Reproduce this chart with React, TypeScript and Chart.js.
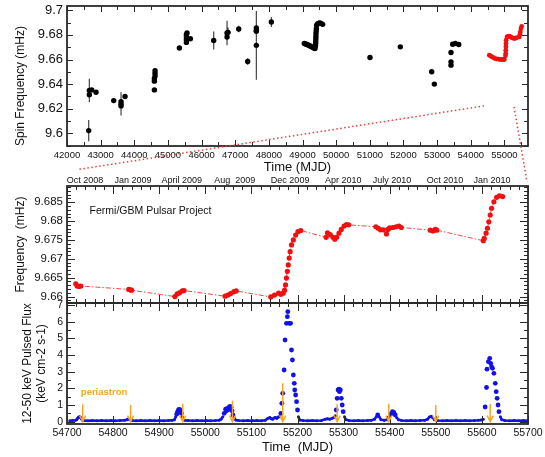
import React, { useEffect, useRef } from 'react';
import { Chart, registerables } from 'chart.js';

Chart.register(...registerables);

const FONT = "'Liberation Sans', Arial, Helvetica, sans-serif";
const RED = '#f01010';
const BLUE = '#1212e6';
const ORANGE = '#f5a623';
const INK = '#111111';
const FRAME = '#2a2a2a';

// ---------- top panel: long-term spin frequency (MJD, mHz, +/- error)
const topBlackMJD = [
  42645, 42664, 42664, 42734, 42863, 43388, 43606, 43606, 43606, 43725,
  44597, 44597, 44597, 44617, 44617, 44617, 45340, 45548, 45548, 45548,
  45548, 45568, 45667, 46360, 46786, 46756, 46756, 47103, 47370, 47627,
  47627, 47627, 47627, 48073,
  49052, 49090, 49129, 49165, 49201, 49237, 49272, 49300, 49331, 49350,
  49370, 49385, 49390, 49393, 49395, 49398, 49400, 49405, 49410, 49420,
  49450, 49485, 49519, 49560, 49598,
  51004, 51906, 52838, 52917, 53412, 53412, 53412, 53462, 53541, 53641,
];
const topBlackFreq = [
  9.6022, 9.6348, 9.6313, 9.6353, 9.6334, 9.6266, 9.6258, 9.6239, 9.6223, 9.6299,
  9.6353, 9.6424, 9.6446, 9.6467, 9.6489, 9.6510, 9.6693, 9.6739, 9.6761, 9.6783,
  9.6804, 9.6815, 9.6769, 9.6755, 9.6821, 9.6815, 9.6783, 9.6848, 9.6584, 9.6856,
  9.6837, 9.6829, 9.6715, 9.6905,
  9.6730, 9.6726, 9.6722, 9.6718, 9.6714, 9.6708, 9.6703, 9.6699, 9.6695, 9.6692,
  9.6689, 9.6710, 9.6730, 9.6750, 9.6770, 9.6790, 9.6811, 9.6831, 9.6851, 9.6878,
  9.6892, 9.6896, 9.6897, 9.6892, 9.6886,
  9.6616, 9.6703, 9.6500, 9.6400, 9.6657, 9.6581, 9.6554, 9.6724, 9.6730, 9.6722,
];
const topBlackErr = [
  0.0087, 0.0095, 0, 0, 0, 0.0016, 0, 0.0095, 0, 0.0012,
  0, 0, 0, 0, 0, 0, 0, 0, 0, 0,
  0, 0, 0, 0.0073, 0.004, 0.01, 0, 0.0027, 0.0027, 0,
  0, 0, 0.028, 0.004,
  0, 0, 0, 0, 0, 0, 0, 0, 0, 0,
  0, 0, 0, 0, 0, 0, 0, 0, 0, 0,
  0, 0, 0, 0, 0,
  0, 0, 0, 0, 0, 0, 0, 0, 0, 0,
];
const topRedMJD = [
  54550, 54590, 54630, 54675, 54719, 54768, 54818, 54868, 54918, 54960,
  54997, 55030, 55037, 55040, 55043, 55046, 55050, 55076, 55110, 55144,
  55180, 55215, 55255, 55295, 55335, 55373, 55442, 55460, 55472, 55490, 55512,
];
const topRedFreq = [
  9.6635, 9.6628, 9.6622, 9.6615, 9.6608, 9.6605, 9.6603, 9.6601, 9.6600, 9.6600,
  9.6600, 9.6630, 9.6649, 9.6676, 9.6703, 9.6730, 9.6757, 9.6784, 9.6787, 9.6789,
  9.6783, 9.6778, 9.6774, 9.6770, 9.6774, 9.6778, 9.6784, 9.6805, 9.6824, 9.6851, 9.6870,
];

// ---------- middle panel: Fermi/GBM frequency
const midMJD = [
  54719, 54722, 54726, 54730, 54834, 54837, 54840,
  54934, 54939, 54944, 54950, 54954,
  55043, 55049, 55055, 55062, 55067,
  55142, 55150, 55159, 55164, 55169, 55172, 55174, 55176, 55178, 55180,
  55182, 55184, 55187, 55191, 55196, 55201, 55207,
  55262, 55265, 55271, 55277, 55281, 55285, 55290, 55295, 55301, 55306, 55311,
  55370, 55375, 55380, 55386, 55393, 55396, 55400, 55407, 55414, 55420, 55425,
  55488, 55494, 55499, 55502,
  55603, 55605, 55609, 55612, 55615, 55618, 55621, 55626, 55632, 55638, 55645,
];
const midFreq = [
  9.6634, 9.6628, 9.6627, 9.6628, 9.6619, 9.6618, 9.6617,
  9.6600, 9.6607, 9.6610, 9.6615, 9.6616,
  9.6601, 9.6604, 9.6608, 9.6613, 9.6615,
  9.6599, 9.6604, 9.6609, 9.6606, 9.6609, 9.6617, 9.6631, 9.6649, 9.6667, 9.6684,
  9.6702, 9.6719, 9.6737, 9.6750, 9.6763, 9.6772, 9.6775,
  9.6757, 9.6769, 9.6764, 9.6757, 9.6752, 9.6757, 9.6768, 9.6778, 9.6787, 9.6791, 9.6790,
  9.6785, 9.6781, 9.6777, 9.6777, 9.6766, 9.6778, 9.6782, 9.6783, 9.6785, 9.6787, 9.6783,
  9.6776, 9.6774, 9.6778, 9.6776,
  9.6748, 9.6754, 9.6768, 9.6781, 9.6798, 9.6816, 9.6834, 9.6851, 9.6863, 9.6867, 9.6865,
];

// ---------- bottom panel: 12-50 keV pulsed flux
const fluxMJD = [
  54706, 54712, 54718, 54721, 54723, 54725, 54727, 54729, 54731, 54733,
  54738, 54745, 54755, 54765, 54775, 54785, 54795, 54805, 54815, 54825,
  54830, 54833, 54836, 54842, 54850, 54860, 54870, 54880, 54890, 54900,
  54910, 54920, 54928, 54933, 54936, 54938, 54940, 54942, 54944, 54946,
  54948, 54950, 54952, 54955, 54962, 54972, 54982, 54992, 55002, 55012,
  55022, 55030, 55034, 55038, 55041, 55044, 55046, 55048, 55050, 55052,
  55054, 55056, 55058, 55060, 55063, 55066, 55072, 55082, 55092, 55102,
  55112, 55122, 55130, 55136, 55140, 55143, 55146, 55149, 55152, 55155,
  55158, 55162, 55164, 55166, 55168, 55171, 55173, 55176, 55178, 55179,
  55182, 55185, 55187, 55189, 55191, 55193, 55194, 55196, 55198, 55200,
  55202, 55205, 55212, 55222, 55232, 55242, 55252, 55260, 55265, 55270,
  55275, 55279, 55282, 55284, 55286, 55288, 55290, 55291, 55293, 55295,
  55297, 55299, 55302, 55305, 55312, 55322, 55332, 55342, 55352, 55360,
  55367, 55371, 55374, 55377, 55381, 55388, 55394, 55398, 55402, 55406,
  55409, 55412, 55415, 55419, 55426, 55436, 55446, 55456, 55466, 55476,
  55482, 55486, 55490, 55493, 55497, 55504, 55514, 55524, 55534, 55544,
  55554, 55564, 55574, 55584, 55592, 55598, 55603, 55607, 55610, 55611,
  55614, 55617, 55619, 55621, 55623, 55626, 55629, 55631, 55633, 55635,
  55637, 55640, 55643, 55650, 55660, 55670, 55680, 55690, 55698,
];
const fluxValue = [
  0.06, 0.07, 0.08, 0.12, 0.2, 0.27, 0.3, 0.26, 0.18, 0.1,
  0.07, 0.06, 0.07, 0.06, 0.07, 0.06, 0.07, 0.06, 0.07, 0.08,
  0.12, 0.16, 0.12, 0.07, 0.06, 0.07, 0.06, 0.07, 0.06, 0.07,
  0.06, 0.07, 0.08, 0.12, 0.3, 0.45, 0.6, 0.72, 0.74, 0.68,
  0.5, 0.3, 0.15, 0.08, 0.07, 0.06, 0.07, 0.06, 0.07, 0.06,
  0.07, 0.09, 0.15, 0.3, 0.5, 0.75, 0.65, 0.8, 0.72, 0.88,
  0.92, 0.85, 0.65, 0.4, 0.2, 0.1, 0.07, 0.06, 0.07, 0.06,
  0.07, 0.06, 0.08, 0.2, 0.25, 0.18, 0.15, 0.22, 0.25, 0.2,
  0.28, 0.3, 0.5, 1.1, 1.7, 3.1, 4.9, 5.9, 6.3, 6.6,
  5.9, 5.9, 4.3, 3.7, 2.8, 2.3, 1.9, 1.6, 1.2, 0.7,
  0.3, 0.1, 0.07, 0.06, 0.07, 0.06, 0.07, 0.15, 0.18, 0.15,
  0.2, 0.25, 0.35, 0.7, 1.4, 1.9, 1.95, 1.8, 1.9, 1.4,
  1.0, 0.6, 0.3, 0.12, 0.07, 0.06, 0.07, 0.06, 0.07, 0.08,
  0.15, 0.3, 0.4, 0.3, 0.12, 0.08, 0.12, 0.3, 0.45, 0.6,
  0.55, 0.4, 0.25, 0.12, 0.07, 0.06, 0.07, 0.06, 0.07, 0.08,
  0.15, 0.28, 0.32, 0.25, 0.12, 0.07, 0.06, 0.07, 0.06, 0.07,
  0.06, 0.07, 0.06, 0.07, 0.08, 0.1, 0.15, 0.88, 2.05, 3.15,
  3.6, 3.8, 3.5, 3.3, 3.2, 2.9, 2.3, 1.8, 1.4, 1.0,
  0.6, 0.3, 0.12, 0.07, 0.06, 0.07, 0.06, 0.07, 0.06,
];

// periastron passages (MJD) and the flux level where each arrow starts
const periastronMJD = [54734, 54838, 54951, 55059, 55168, 55286, 55398, 55500, 55618];
const periastronTop = [1.04, 1.0, 1.08, 1.26, 2.3, 1.04, 1.08, 1.0, 1.06];

// ---------- tick labels
const topXTicks = [42000, 43000, 44000, 45000, 46000, 47000, 48000, 49000, 50000, 51000, 52000, 53000, 54000, 55000];
const topYTicks = [9.6, 9.62, 9.64, 9.66, 9.68, 9.7];
const midYTicks = [9.66, 9.665, 9.67, 9.675, 9.68, 9.685];
const botYTicks = [0, 1, 2, 3, 4, 5, 6, 7];
const botXTicks = [54700, 54800, 54900, 55000, 55100, 55200, 55300, 55400, 55500, 55600, 55700];
const dateTickMJD = [54739, 54843, 54949, 55064, 55184, 55299, 55405, 55520, 55622];
const dateTickLabels = ['Oct 2008', 'Jan 2009', 'April 2009', 'Aug  2009', 'Dec 2009', 'Apr 2010', 'July 2010', 'Oct 2010', 'Jan 2010'];

// zoom connectors: from top panel (MJD, mHz) to above middle panel (MJD, mHz)
const zoomLinks = [
  { topMJD: 54392, topFreq: 9.6223, midMJD: 54726, midFreq: 9.6937 },
  { topMJD: 55284, topFreq: 9.6215, midMJD: 55698, midFreq: 9.6903 },
];

const fmt = (v: any) => String(Number(Number(v).toFixed(4)));
const setTicks = (arr: number[]) => (scale: any) => {
  scale.ticks = arr.map((v) => ({ value: v }));
};
const noPad = (scale: any) => {
  scale.paddingTop = 0;
  scale.paddingBottom = 0;
  scale.paddingLeft = 0;
  scale.paddingRight = 0;
};
const fixW = (w: number) => (scale: any) => {
  scale.width = w;
  noPad(scale);
};
const fixH = (h: number) => (scale: any) => {
  scale.height = h;
  noPad(scale);
};
const noGrid = { display: false, drawTicks: false, tickLength: 0 };

function tickValues(min: number, max: number, step: number) {
  const out: number[] = [];
  const i0 = Math.ceil(min / step - 1e-7);
  const i1 = Math.floor(max / step + 1e-7);
  for (let i = i0; i <= i1; i++) out.push(i * step);
  return out;
}
function isMajor(v: number, major: number) {
  const r = v / major;
  return Math.abs(r - Math.round(r)) < 1e-6;
}

const decor = {
  id: 'decor',
  afterDatasetsDraw(chart: any) {
    const { ctx, scales: s, chartArea } = chart;
    const L = chartArea.left;
    const R = chartArea.right;
    const panels = [
      { xs: s.xTop, ys: s.yTop, xMaj: 1000, xMin: 500, yMaj: 0.02, yMin: 0.01, len: [6, 4], bottomMinor: true },
      { xs: s.xBot, ys: s.yMid, xMaj: 100, xMin: 20, yMaj: 0.005, yMin: 0.001, len: [8, 4], bottomMinor: true },
      { xs: s.xBot, ys: s.yBot, xMaj: 100, xMin: 20, yMaj: 1, yMin: 0.5, len: [8, 4], bottomMinor: false },
    ];
    ctx.save();
    ctx.strokeStyle = FRAME;
    for (const p of panels) {
      const T = p.ys.top;
      const B = p.ys.bottom;
      ctx.lineWidth = 1;
      ctx.beginPath();
      for (const v of tickValues(p.xs.min, p.xs.max, p.xMin)) {
        const maj = isMajor(v, p.xMaj);
        const len = maj ? p.len[0] : p.len[1];
        const x = Math.round(p.xs.getPixelForValue(v)) + 0.5;
        ctx.moveTo(x, T);
        ctx.lineTo(x, T + len);
        if (maj || p.bottomMinor) {
          ctx.moveTo(x, B);
          ctx.lineTo(x, B - len);
        }
      }
      for (const v of tickValues(p.ys.min, p.ys.max, p.yMin)) {
        const maj = isMajor(v, p.yMaj);
        const len = maj ? p.len[0] : p.len[1];
        const y = Math.round(p.ys.getPixelForValue(v)) + 0.5;
        ctx.moveTo(L, y);
        ctx.lineTo(L + len, y);
        ctx.moveTo(R, y);
        ctx.lineTo(R - len, y);
      }
      ctx.stroke();
      ctx.lineWidth = 1.8;
      ctx.strokeRect(L, T, R - L, B - T);
    }

    // periastron arrows
    ctx.strokeStyle = ORANGE;
    ctx.lineWidth = 1.5;
    periastronMJD.forEach((m, i) => {
      const x = s.xBot.getPixelForValue(m);
      const y0 = s.yBot.getPixelForValue(periastronTop[i]);
      const y1 = s.yBot.getPixelForValue(0);
      ctx.beginPath();
      ctx.moveTo(x, y0);
      ctx.lineTo(x, y1);
      ctx.moveTo(x - 3, y1 - 6);
      ctx.lineTo(x, y1);
      ctx.lineTo(x + 3, y1 - 6);
      ctx.stroke();
    });
    ctx.fillStyle = ORANGE;
    ctx.font = `bold 9.5px ${FONT}`;
    ctx.textAlign = 'left';
    ctx.textBaseline = 'middle';
    ctx.fillText('periastron', s.xBot.getPixelForValue(54730), s.yBot.getPixelForValue(1.78));

    ctx.fillStyle = INK;
    ctx.font = `10.5px ${FONT}`;
    ctx.fillText('Fermi/GBM Pulsar Project', s.xBot.getPixelForValue(54749), s.yMid.getPixelForValue(9.6827));
    ctx.restore();
  },
  afterDraw(chart: any) {
    const { ctx, scales: s } = chart;
    ctx.save();
    ctx.strokeStyle = '#e8413c';
    ctx.lineWidth = 1.5;
    ctx.setLineDash([1.5, 2.5]);
    for (const z of zoomLinks) {
      ctx.beginPath();
      ctx.moveTo(s.xTop.getPixelForValue(z.topMJD), s.yTop.getPixelForValue(z.topFreq));
      ctx.lineTo(s.xBot.getPixelForValue(z.midMJD), s.yMid.getPixelForValue(z.midFreq));
      ctx.stroke();
    }
    ctx.restore();
  },
};

function buildConfig(): any {
  const errData: any[] = [];
  topBlackMJD.forEach((m, i) => {
    const e = topBlackErr[i];
    if (e > 0) {
      errData.push({ x: m, y: topBlackFreq[i] - e });
      errData.push({ x: m, y: topBlackFreq[i] + e });
      errData.push({ x: m, y: null });
    }
  });

  const yTitle = (text: any, top: number) => ({
    display: true,
    text,
    color: INK,
    font: { family: FONT, size: 12 },
    padding: { top, bottom: 0 },
  });
  const yTickOpts = (size: number) => ({
    color: INK,
    font: { family: FONT, size },
    padding: 4,
    autoSkip: false,
    callback: fmt,
  });

  return {
    type: 'scatter',
    data: {
      datasets: [
        {
          label: 'spin',
          xAxisID: 'xTop',
          yAxisID: 'yTop',
          data: topBlackMJD.map((m, i) => ({ x: m, y: topBlackFreq[i] })),
          pointRadius: 2.7,
          pointBorderWidth: 0,
          pointBackgroundColor: '#000',
          showLine: false,
        },
        {
          label: 'spinGBM',
          xAxisID: 'xTop',
          yAxisID: 'yTop',
          data: topRedMJD.map((m, i) => ({ x: m, y: topRedFreq[i] })),
          pointRadius: 2.4,
          pointBorderWidth: 0,
          pointBackgroundColor: RED,
          showLine: false,
        },
        {
          label: 'err',
          xAxisID: 'xTop',
          yAxisID: 'yTop',
          data: errData,
          showLine: true,
          spanGaps: false,
          borderColor: '#444',
          borderWidth: 1.2,
          pointRadius: 0,
        },
        {
          label: 'freq',
          xAxisID: 'xBot',
          yAxisID: 'yMid',
          data: midMJD.map((m, i) => ({ x: m, y: midFreq[i] })),
          showLine: true,
          borderColor: 'rgba(235,40,40,0.85)',
          borderWidth: 1,
          borderDash: [5, 2, 1.5, 2],
          pointRadius: 2.6,
          pointBorderWidth: 0,
          pointBackgroundColor: RED,
        },
        {
          label: 'flux',
          xAxisID: 'xBot',
          yAxisID: 'yBot',
          data: fluxMJD.map((m, i) => ({ x: m, y: fluxValue[i] })),
          showLine: true,
          borderColor: BLUE,
          borderWidth: 2.5,
          segment: {
            borderColor: (c: any) =>
              c.p0.parsed.y <= 0.35 && c.p1.parsed.y <= 0.35 ? BLUE : 'rgba(0,0,0,0)',
          },
          pointRadius: (c: any) => (c.raw && c.raw.y > 0.35 ? 2.4 : 1.5),
          pointBorderWidth: 0,
          pointBackgroundColor: BLUE,
        },
      ],
    },
    options: {
      responsive: false,
      animation: false,
      devicePixelRatio: 1,
      events: [],
      layout: { autoPadding: false, padding: { top: 6, right: 17, bottom: 0, left: 0 } },
      plugins: { legend: { display: false }, tooltip: { enabled: false } },
      scales: {
        yBot: {
          type: 'linear',
          axis: 'y',
          position: 'left',
          stack: 'panels',
          stackWeight: 121,
          weight: 1,
          min: -0.14,
          max: 7.12,
          bounds: 'data',
          grid: noGrid,
          border: { display: false },
          ticks: yTickOpts(10.5),
          afterBuildTicks: setTicks(botYTicks),
          afterFit: fixW(67),
          title: yTitle(['12-50 keV Pulsed Flux', '(keV cm-2 s-1)'], 20),
        },
        yMid: {
          type: 'linear',
          axis: 'y',
          position: 'left',
          stack: 'panels',
          stackWeight: 117,
          weight: 2,
          min: 9.6583,
          max: 9.6893,
          bounds: 'data',
          grid: noGrid,
          border: { display: false },
          ticks: yTickOpts(11.5),
          afterBuildTicks: setTicks(midYTicks),
          afterFit: fixW(67),
          title: yTitle('Frequency  (mHz)', 13),
        },
        ySpacer: {
          type: 'linear',
          axis: 'y',
          position: 'left',
          stack: 'panels',
          stackWeight: 40,
          weight: 3,
          min: 0,
          max: 1,
          grid: noGrid,
          border: { display: false },
          ticks: { display: false },
          afterFit: fixW(67),
          title: { display: false },
        },
        yTop: {
          type: 'linear',
          axis: 'y',
          position: 'left',
          stack: 'panels',
          stackWeight: 140,
          weight: 4,
          min: 9.5897,
          max: 9.7035,
          bounds: 'data',
          grid: noGrid,
          border: { display: false },
          ticks: yTickOpts(13),
          afterBuildTicks: setTicks(topYTicks),
          afterFit: fixW(67),
          title: yTitle('Spin Frequency (mHz)      ', 13),
        },
        xBot: {
          type: 'linear',
          axis: 'x',
          position: 'bottom',
          min: 54700,
          max: 55700,
          bounds: 'data',
          grid: noGrid,
          border: { display: false },
          ticks: { color: INK, font: { family: FONT, size: 10.5 }, padding: 3, autoSkip: false, maxRotation: 0, minRotation: 0, callback: fmt },
          afterBuildTicks: setTicks(botXTicks),
          afterFit: fixH(33),
          title: { display: true, text: 'Time  (MJD)', color: INK, font: { family: FONT, size: 13 }, padding: { top: 0, bottom: 2 } },
        },
        xTop: {
          type: 'linear',
          axis: 'x',
          position: { yTop: 9.5897 },
          min: 42000,
          max: 55700,
          bounds: 'data',
          grid: noGrid,
          border: { display: false },
          ticks: { color: INK, font: { family: FONT, size: 9.5 }, padding: 4, autoSkip: false, maxRotation: 0, minRotation: 0, callback: fmt },
          afterBuildTicks: setTicks(topXTicks),
          afterFit: fixH(29),
          title: { display: true, text: 'Time (MJD)', color: INK, font: { family: FONT, size: 13 }, padding: { top: 0, bottom: 0 } },
        },
        xDates: {
          type: 'linear',
          axis: 'x',
          position: { yMid: 9.6893 },
          min: 54700,
          max: 55700,
          bounds: 'data',
          grid: noGrid,
          border: { display: false },
          ticks: {
            color: INK,
            font: { family: FONT, size: 9 },
            padding: -11,
            autoSkip: false,
            maxRotation: 0,
            minRotation: 0,
            callback: (_v: any, i: number) => dateTickLabels[i],
          },
          afterBuildTicks: setTicks(dateTickMJD),
          afterFit: fixH(0),
          title: { display: false },
        },
      },
    },
    plugins: [decor],
  };
}

export default function App() {
  const ref = useRef<HTMLCanvasElement>(null);
  useEffect(() => {
    if (!ref.current) return;
    const chart = new Chart(ref.current, buildConfig());
    return () => chart.destroy();
  }, []);
  return (
    <div style={{ position: 'absolute', left: 0, top: 0, width: 545, height: 457, background: '#fff' }}>
      <canvas ref={ref} width={545} height={457} style={{ display: 'block' }} />
    </div>
  );
}
